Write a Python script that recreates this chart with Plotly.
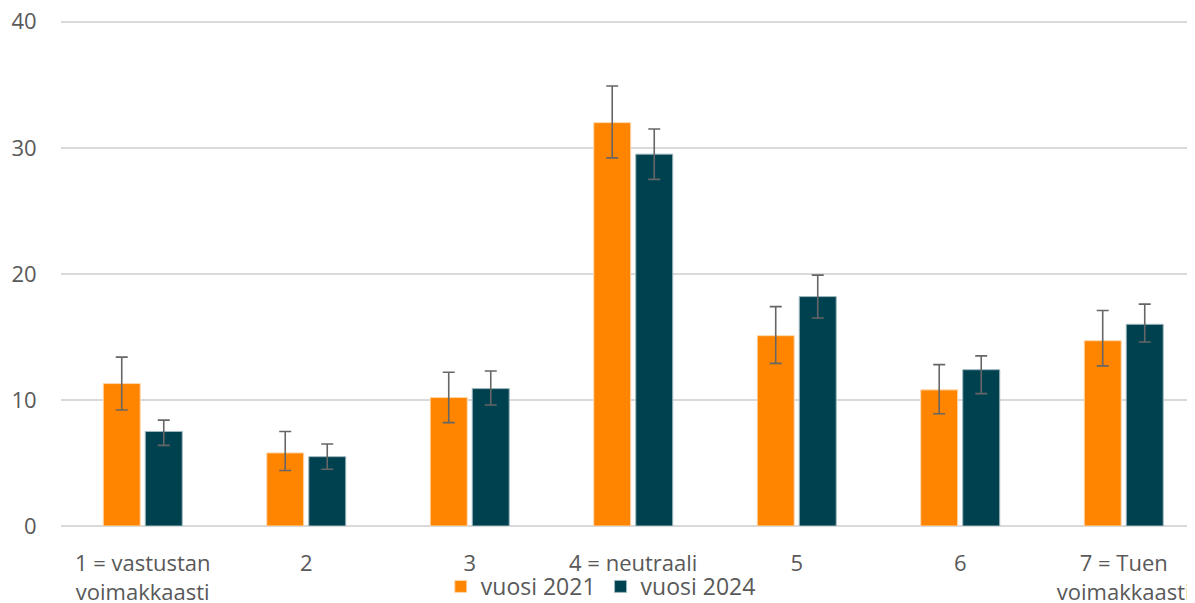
import plotly.graph_objects as go

# Values
categories = ["1 = vastustan<br>voimakkaasti", "2", "3", "4 = neutraali", "5", "6", "7 = Tuen<br>voimakkaasti"]

vals_2021 = [11.3, 5.8, 10.2, 32.0, 15.1, 10.8, 14.7]
err_up_2021 = [2.1, 1.7, 2.0, 2.9, 2.3, 2.0, 2.4]
err_down_2021 = [2.1, 1.4, 2.0, 2.8, 2.2, 1.9, 2.0]

vals_2024 = [7.5, 5.5, 10.9, 29.5, 18.2, 12.4, 16.0]
err_up_2024 = [0.9, 1.0, 1.4, 2.0, 1.7, 1.1, 1.6]
err_down_2024 = [1.1, 1.0, 1.3, 2.0, 1.7, 1.9, 1.4]

orange = "#FF8400"
teal = "#00414F"
grey_text = "#595959"
err_col = "#666666"

fig = go.Figure()

fig.add_trace(go.Bar(
    x=categories, y=vals_2021, name="vuosi 2021",
    marker=dict(color=orange, line=dict(color="#FFD9B0", width=1)),
    error_y=dict(type="data", symmetric=False, array=err_up_2021, arrayminus=err_down_2021,
                 color=err_col, thickness=1.6, width=6),
))
fig.add_trace(go.Bar(
    x=categories, y=vals_2024, name="vuosi 2024",
    marker=dict(color=teal, line=dict(color="#9FB8BE", width=1)),
    error_y=dict(type="data", symmetric=False, array=err_up_2024, arrayminus=err_down_2024,
                 color=err_col, thickness=1.6, width=6),
))

# page body has an 8px margin, so the figure is sized/offset to compensate
fig.update_layout(
    width=1187, height=595,
    margin=dict(l=53, r=0, t=10, b=77, autoexpand=False),
    paper_bgcolor="white", plot_bgcolor="white",
    font=dict(family="Open Sans, Noto Sans, sans-serif", size=22, color=grey_text),
    barmode="group", bargap=0.486, bargroupgap=0.12,
    showlegend=True,
    legend=dict(orientation="h", x=0.476, y=-0.119, xanchor="center", yanchor="middle",
                font=dict(size=23, color=grey_text), bgcolor="rgba(0,0,0,0)"),
)

fig.update_xaxes(
    range=[-0.5, 6.436], showgrid=False, showline=False, automargin=False,
    ticks="outside", ticklen=18, tickcolor="rgba(0,0,0,0)",
    tickfont=dict(size=22, color=grey_text),
)
fig.update_yaxes(
    range=[0, 40.3], tickvals=[0, 10, 20, 30, 40], automargin=False,
    ticklabeloverflow="allow",
    showgrid=True, gridcolor="#D9D9D9", gridwidth=1.5,
    zeroline=True, zerolinecolor="#D9D9D9", zerolinewidth=1.5,
    showline=False, ticks="outside", ticklen=19, tickcolor="rgba(0,0,0,0)",
    tickfont=dict(size=22, color=grey_text),
)

fig.write_html("out.html")
